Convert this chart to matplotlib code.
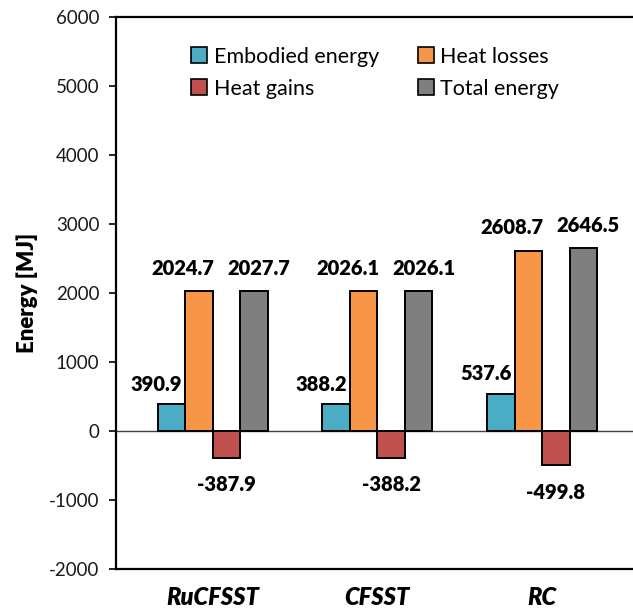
import numpy as np
import matplotlib
matplotlib.use("Agg")
import matplotlib.pyplot as plt
from matplotlib.patches import Patch

plt.rcParams['font.family'] = ['Lato', 'DejaVu Sans']

categories = ['RuCFSST', 'CFSST', 'RC']
series_names = ['Embodied energy', 'Heat losses', 'Heat gains', 'Total energy']
embodied = [390.9, 388.2, 537.6]
heat_losses = [2024.7, 2026.1, 2608.7]
heat_gains = [-387.9, -388.2, -499.8]
total = [2027.7, 2026.1, 2646.5]
colors = ['#4BACC6', '#F79646', '#C0504D', '#7F7F7F']
yticks = [-2000, -1000, 0, 1000, 2000, 3000, 4000, 5000, 6000]

# label offsets in pixels (dx, dy) relative to the bar end
label_offsets = [(-15, 20), (-16, 23), (0, -27), (5, 23)]

fig = plt.figure(figsize=(6.33, 6.16), dpi=100)
ax = fig.add_axes([116 / 633, 47 / 616, 517 / 633, 552 / 616])

x = np.arange(len(categories))
width = 0.167
all_series = [embodied, heat_losses, heat_gains, total]

for i, (vals, col) in enumerate(zip(all_series, colors)):
    pos = x + (i - 1.5) * width
    ax.bar(pos, vals, width, color=col, edgecolor='black', linewidth=1.4, zorder=3)
    dx, dy = label_offsets[i]
    for px, v in zip(pos, vals):
        ax.annotate(f"{v:.1f}", (px, v), xytext=(dx, dy), textcoords='offset pixels',
                    ha='center', va='center', fontsize=14.5, fontweight='heavy',
                    color='black', zorder=4)

ax.axhline(0, color='#404040', linewidth=1.0, zorder=2)

ax.set_ylim(-2000, 6000)
ax.set_xlim(-0.586, 2.552)
ax.set_yticks(yticks)
ax.set_yticklabels([str(t) for t in yticks], fontsize=13.5, color='#1a1a1a')
ax.set_xticks(x)
ax.set_xticklabels(categories, fontsize=17, fontweight='heavy', style='italic')
ax.tick_params(axis='x', length=0, pad=12)
ax.tick_params(axis='y', direction='out', length=5, width=1.2, pad=7)

ax.spines['right'].set_visible(False)
for s in ['left', 'top', 'bottom']:
    ax.spines[s].set_linewidth(1.6)

ax.set_ylabel('Energy [MJ]', fontsize=16, fontweight='heavy', labelpad=8)

handles = [Patch(facecolor=c, edgecolor='black', linewidth=1.2) for c in colors]
order = [0, 2, 1, 3]
ax.legend([handles[k] for k in order], [series_names[k] for k in order],
          ncol=2, loc='upper left', bbox_to_anchor=(0.145, 0.946),
          frameon=False, fontsize=15.5, handlelength=0.75, handleheight=0.75,
          handletextpad=0.3, columnspacing=1.8, labelspacing=0.55,
          borderaxespad=0, borderpad=0)

fig.savefig('out.png', dpi=100)
